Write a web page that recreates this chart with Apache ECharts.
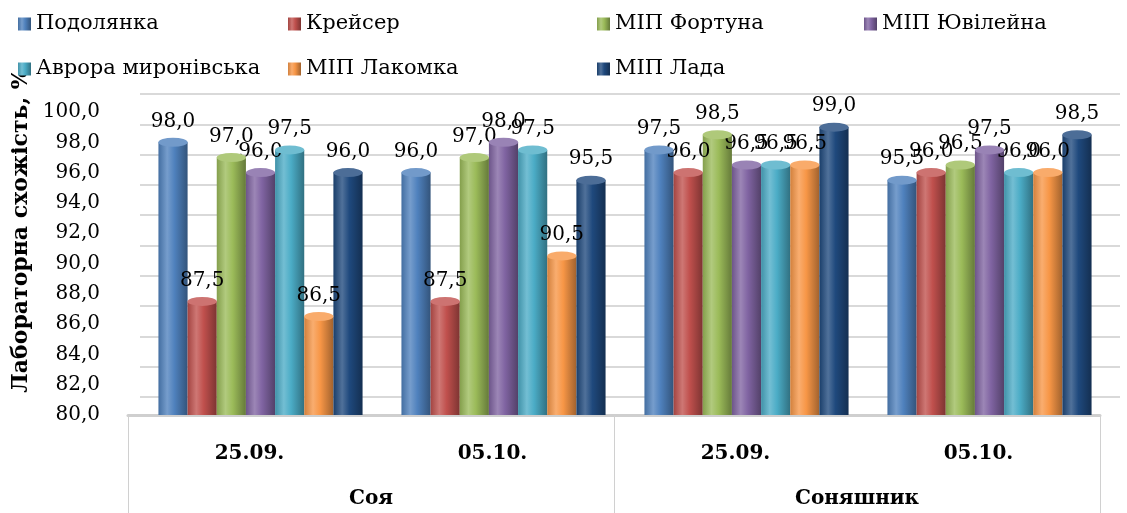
<!DOCTYPE html>
<html>
<head>
<meta charset="utf-8">
<script src="https://cdn.jsdelivr.net/npm/echarts@6/dist/echarts.min.js"></script>
<style>
  html, body { margin: 0; padding: 0; background: #ffffff; }
  #chart { width: 1127px; height: 513px; }
</style>
</head>
<body>
<div id="chart"></div>
<script>
// Categories: sowing dates inside each crop
const dates = ['25.09.', '05.10.', '25.09.', '05.10.'];
const crops = ['Соя', 'Соняшник'];

// Varieties (legend order)
const varieties = ['Подолянка', 'Крейсер', 'МІП Фортуна', 'МІП Ювілейна',
                   'Аврора миронівська', 'МІП Лакомка', 'МІП Лада'];

// Laboratory germination, %
const podolianka = [98.0, 96.0, 97.5, 95.5];
const kreiser    = [87.5, 87.5, 96.0, 96.0];
const fortuna    = [97.0, 97.0, 98.5, 96.5];
const yuvileina  = [96.0, 98.0, 96.5, 97.5];
const avrora     = [97.5, 97.5, 96.5, 96.0];
const lakomka    = [86.5, 90.5, 96.5, 96.0];
const lada       = [96.0, 95.5, 99.0, 98.5];
const values = [podolianka, kreiser, fortuna, yuvileina, avrora, lakomka, lada];

// Y axis range
const yMin = 80, yMax = 100, yStep = 2;

const baseColors = ['#4F81BD', '#C0504D', '#9BBB59', '#8064A2', '#4BACC6', '#F79646', '#1F497D'];

function shade(hex, f) {
  const n = parseInt(hex.slice(1), 16);
  let r = (n >> 16) & 255, g = (n >> 8) & 255, b = n & 255;
  if (f >= 0) { r += (255 - r) * f; g += (255 - g) * f; b += (255 - b) * f; }
  else { r *= (1 + f); g *= (1 + f); b *= (1 + f); }
  const h = v => Math.round(v).toString(16).padStart(2, '0');
  return '#' + h(r) + h(g) + h(b);
}

// horizontal shading that makes a flat bar read as a cylinder
function cylinderFill(c) {
  return new echarts.graphic.LinearGradient(0, 0, 1, 0, [
    { offset: 0, color: shade(c, -0.15) },
    { offset: 0.3, color: shade(c, 0.22) },
    { offset: 0.55, color: c },
    { offset: 1, color: shade(c, -0.35) }
  ]);
}

const fmt = v => Number(v).toFixed(1).replace('.', ',');
const serif = 'DejaVu Serif';

const series = [];
varieties.forEach((name, i) => {
  const c = baseColors[i];
  series.push({
    name: name,
    type: 'bar',
    xAxisIndex: 0, yAxisIndex: 0,
    data: values[i],
    barGap: 0,
    barCategoryGap: '16%',
    itemStyle: { color: cylinderFill(c) },
    label: {
      show: true, position: 'top', distance: 11,
      formatter: p => fmt(p.value),
      fontFamily: serif, fontSize: 20, color: '#000'
    },
    z: 3
  });
});
varieties.forEach((name, i) => {
  const c = baseColors[i];
  // elliptical top of each cylinder
  series.push({
    name: name,
    type: 'pictorialBar',
    xAxisIndex: 0, yAxisIndex: 0,
    data: values[i],
    barGap: 0,
    barCategoryGap: '16%',
    symbol: 'circle',
    symbolSize: ['100%', 9],
    symbolPosition: 'end',
    symbolOffset: [0, '-50%'],
    itemStyle: { color: shade(c, 0.2) },
    z: 4,
    silent: true
  });
});

const option = {
  backgroundColor: '#ffffff',
  animation: false,
  textStyle: { fontFamily: serif },
  color: baseColors,
  legend: [
    { data: ['Подолянка', 'Аврора миронівська'], left: 18 },
    { data: ['Крейсер', 'МІП Лакомка'], left: 288 },
    { data: ['МІП Фортуна', 'МІП Лада'], left: 597 },
    { data: ['МІП Ювілейна'], left: 864 }
  ].map(l => Object.assign(l, {
    top: 12,
    padding: 0,
    orient: 'vertical',
    icon: 'rect',
    itemWidth: 13, itemHeight: 13,
    itemGap: 21,
    textStyle: { fontFamily: serif, fontSize: 21, color: '#000', lineHeight: 24 }
  })),
  grid: [
    { left: 139, right: 16, top: 112, bottom: 98 },   // bars
    { left: 128, right: 27, top: 112, bottom: 98 },   // date axis
    { left: 128, right: 27, top: 112, bottom: 98 },   // crop axis
    { left: 140, right: 7, top: 94, bottom: 116 }     // back wall grid lines
  ],
  xAxis: [
    { gridIndex: 0, type: 'category', data: dates, show: false },
    {
      gridIndex: 1, type: 'category', data: dates,
      axisLine: { lineStyle: { color: '#cfcfcf', width: 3 } },
      axisTick: { show: false },
      axisLabel: { margin: 29, fontFamily: serif, fontSize: 20, fontWeight: 'bold', color: '#000' }
    },
    {
      gridIndex: 2, type: 'category', data: crops,
      axisLine: { show: false },
      axisTick: { show: true, length: 100, interval: 0, lineStyle: { color: '#d0d0d0', width: 1 } },
      axisLabel: { margin: 74, fontFamily: serif, fontSize: 20, fontWeight: 'bold', color: '#000' }
    },
    { gridIndex: 3, type: 'category', data: dates, show: false }
  ],
  yAxis: [
    {
      gridIndex: 0, type: 'value', min: yMin, max: yMax, interval: yStep,
      name: 'Лабораторна схожість, %',
      nameLocation: 'middle', nameRotate: 90, nameGap: 101,
      nameTextStyle: { fontFamily: serif, fontSize: 22, fontWeight: 'bold', color: '#000', padding: [0, 0, 0, 66] },
      axisLine: { show: false }, axisTick: { show: false },
      splitLine: { show: false },
      axisLabel: { margin: 39, formatter: fmt, fontFamily: serif, fontSize: 20, color: '#000' }
    },
    { gridIndex: 1, type: 'value', min: yMin, max: yMax, show: false },
    { gridIndex: 2, type: 'value', min: yMin, max: yMax, show: false },
    {
      gridIndex: 3, type: 'value', min: yMin, max: yMax, interval: yStep,
      axisLine: { show: false }, axisTick: { show: false }, axisLabel: { show: false },
      splitLine: { show: true, lineStyle: { color: '#d9d9d9', width: 2 } }
    }
  ],
  series: series
};

const chart = echarts.init(document.getElementById('chart'), null, { renderer: 'canvas' });
chart.setOption(option);
</script>
</body>
</html>
